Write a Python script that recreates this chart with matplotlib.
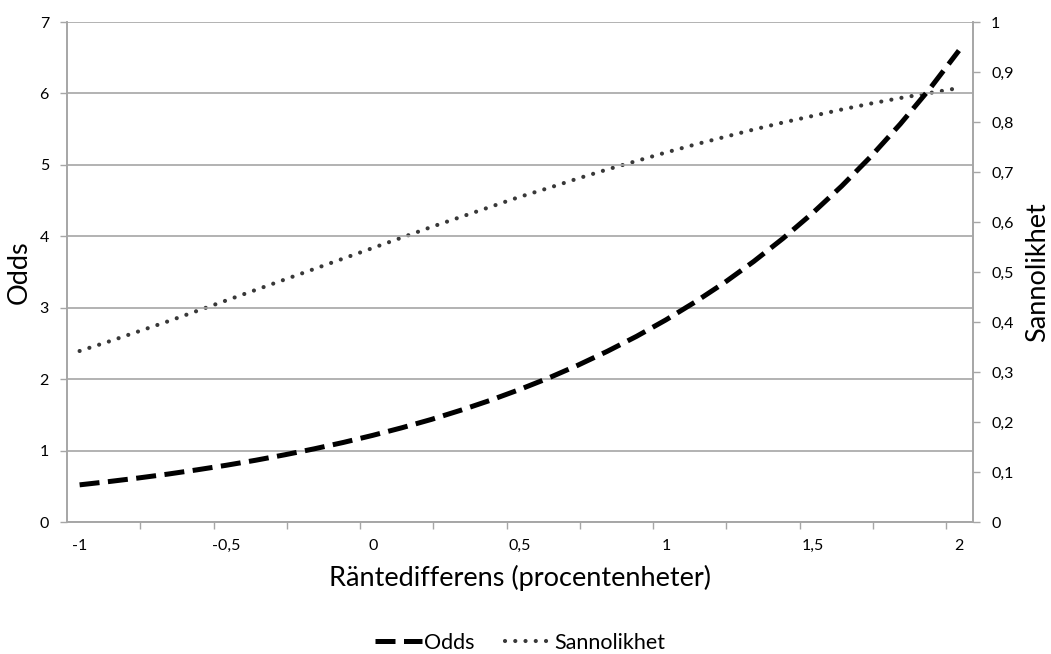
import matplotlib

matplotlib.use("Agg")
import matplotlib.pyplot as plt
import numpy as np

plt.rcParams["font.family"] = ["Lato", "DejaVu Sans"]

# Räntedifferens (procentenheter), steg 0,1
x = [-1.0, -0.9, -0.8, -0.7, -0.6, -0.5, -0.4, -0.3, -0.2, -0.1, 0.0,
     0.1, 0.2, 0.3, 0.4, 0.5, 0.6, 0.7, 0.8, 0.9, 1.0,
     1.1, 1.2, 1.3, 1.4, 1.5, 1.6, 1.7, 1.8, 1.9, 2.0]
odds = [0.52, 0.566, 0.616, 0.67, 0.73, 0.794, 0.864, 0.941, 1.024, 1.114, 1.213,
        1.32, 1.436, 1.564, 1.702, 1.853, 2.016, 2.195, 2.389, 2.599, 2.829,
        3.08, 3.351, 3.648, 3.971, 4.322, 4.703, 5.119, 5.572, 6.063, 6.6]
sannolikhet = [0.342, 0.361, 0.381, 0.401, 0.422, 0.443, 0.464, 0.485, 0.506, 0.527, 0.548,
               0.569, 0.59, 0.61, 0.63, 0.65, 0.668, 0.687, 0.705, 0.722, 0.739,
               0.755, 0.77, 0.785, 0.799, 0.812, 0.825, 0.837, 0.848, 0.858, 0.868]

x_ticks = [-1, -0.5, 0, 0.5, 1, 1.5, 2]
left_ticks = [0, 1, 2, 3, 4, 5, 6, 7]
right_ticks = [0, 0.1, 0.2, 0.3, 0.4, 0.5, 0.6, 0.7, 0.8, 0.9, 1]

GRID = "#a6a6a6"


def komma(v):
    return f"{v:g}".replace(".", ",")


fig = plt.figure(figsize=(10.51, 6.54), dpi=100)
ax = fig.add_axes([67 / 1051, 132 / 654, 906 / 1051, 500 / 654])
ax2 = ax.twinx()
ax.set_zorder(ax2.get_zorder() + 1)
ax.patch.set_visible(False)

dash = ax.plot(x, odds, color="black", lw=3.6, ls=(0, (4.0, 1.7)), label="Odds")[0]
dot = ax2.plot(x, sannolikhet, color="#383838", lw=3.0, ls=(0, (0.01, 2.45)),
               dash_capstyle="round", label="Sannolikhet")[0]

xmin, xmax = -1.043, 2.048
ax.set_xlim(xmin, xmax)
ax.set_ylim(0, 7)
ax2.set_ylim(0, 1)

ax.set_xticks(x_ticks)
ax.set_xticklabels([komma(v) for v in x_ticks])
ax.set_xticks(np.arange(xmin, xmax, 0.25)[1:], minor=True)
ax.tick_params(axis="x", which="major", length=0, pad=12, labelsize=11.5)
ax.tick_params(axis="x", which="minor", length=5, width=1, color=GRID, direction="out")

ax.set_yticks(left_ticks)
ax.tick_params(axis="y", length=5, width=1, color=GRID, pad=8, labelsize=11.5)
ax2.set_yticks(right_ticks)
ax2.set_yticklabels([komma(v) for v in right_ticks])
ax2.tick_params(axis="y", length=5, width=1, color=GRID, pad=8, labelsize=11.5)

ax.grid(axis="y", color=GRID, lw=1.2)
for a in (ax, ax2):
    a.spines["top"].set_visible(False)
    for s in ("left", "bottom", "right"):
        a.spines[s].set_color(GRID)
        a.spines[s].set_linewidth(1.2)

ax.set_xlabel("Räntedifferens (procentenheter)", fontsize=19.5, labelpad=9)
ax.set_ylabel("Odds", fontsize=19.5)
ax2.set_ylabel("Sannolikhet", fontsize=19.5)
ax.yaxis.set_label_coords(-0.039, 0.5)
ax2.yaxis.set_label_coords(1.058, 0.5)

fig.legend(handles=[dash, dot], loc="lower center", bbox_to_anchor=(0.495, -0.028),
           ncol=2, frameon=False, fontsize=15.5, handlelength=2.2, handletextpad=0.1,
           columnspacing=1.4)

fig.savefig("out.png", dpi=100)
